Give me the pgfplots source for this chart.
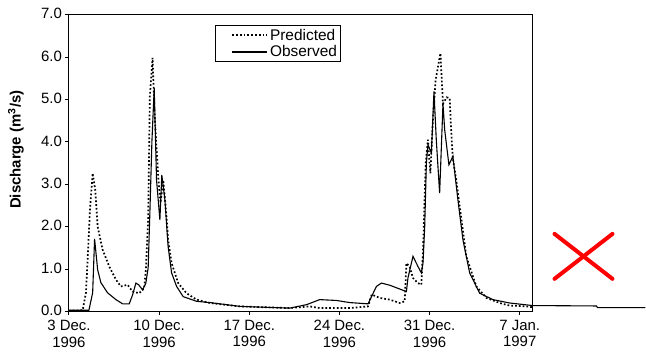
\documentclass[border=0pt]{standalone}
\usepackage{pgfplots}
\pgfplotsset{compat=1.18}
\usepackage{fontspec}
\setmainfont{Liberation Sans}
\begin{document}
\begin{tikzpicture}
\begin{axis}[
  name=ax,
  scale only axis,
  width=464bp, height=297bp,
  xmin=0, xmax=36, ymin=0, ymax=7,
  clip=false,
  axis line style={line width=1bp},
  xtick={0,7,14,21,28,35},
  xticklabels={{3 Dec.\\1996},{10 Dec.\\1996},{17 Dec.\\1996},{24 Dec.\\1996},{31 Dec.\\1996},{7 Jan.\\1997}},
  x tick label style={align=center, font=\fontsize{15}{16.7}\selectfont, yshift=-1.5bp},
  ytick={0,1,...,7},
  y tick label style={font=\fontsize{15}{18}\selectfont, yshift=1bp, /pgf/number format/.cd, fixed, fixed zerofill, precision=1, assume math mode=true},
  tick align=outside,
  major tick length=3.5bp,
  xtick pos=bottom, ytick pos=left,
  tick style={line width=1bp, black},
  ylabel={\textbf{Discharge (m\textsuperscript{3}/s)}},
  ylabel style={font=\fontsize{15}{18}\selectfont, at={(axis description cs:-0.09,0.545)}, anchor=south},
  legend style={at={(rel axis cs:0.315,0.965)}, anchor=north west, draw=black, line width=0.8bp,
    font=\fontsize{15.5}{17}\selectfont, inner xsep=1bp, inner ysep=1.5bp, row sep=0bp, cells={anchor=west}},
  legend image code/.code={\path (0bp,0bp); \draw[#1] (15bp,0bp) -- (50bp,0bp);},
]
% Predicted
\addplot[black, line width=1.7bp, dash pattern=on 1.7bp off 2.1bp] coordinates {
(0,0.02) (1.06,0.03) (1.32,0.44) (1.45,1.22) (1.63,2.39) (1.84,3.26) (2.04,2.87) (2.23,2.0)
(2.61,1.46) (3.13,1.06) (3.65,0.75) (4.03,0.59) (4.55,0.63) (4.94,0.47) (5.45,0.43) (5.84,0.55)
(5.97,0.98) (6.15,2.16) (6.28,5.07) (6.49,5.98) (6.67,4.52) (6.93,3.18) (7.11,2.56) (7.32,3.10)
(7.53,2.40) (7.70,1.69) (7.97,1.14) (8.48,0.67) (9.13,0.43) (9.91,0.28) (10.94,0.20) (13.27,0.12)
(17.15,0.08) (18.70,0.12) (19.47,0.08) (21.80,0.08) (23.22,0.12) (23.51,0.40) (24.13,0.32)
(24.90,0.28) (25.68,0.20) (26.07,0.24) (26.20,1.14) (26.45,1.06) (26.71,0.79) (27.10,0.67)
(27.36,0.63) (27.49,1.45) (27.70,3.5) (27.87,4.05) (28.06,3.26) (28.22,4.29) (28.47,5.46)
(28.84,6.09) (29.04,4.9) (29.33,5.05) (29.56,5.03) (29.67,4.3) (29.81,3.6) (30.07,3.1)
(30.85,1.30) (31.63,0.59) (32.41,0.32) (33.44,0.20) (34.21,0.14) (35.51,0.12) (36.0,0.10)
};
\addlegendentry{Predicted}
% Observed
\addplot[black, line width=1.1bp] coordinates {
(0,0.03) (1.55,0.03) (1.84,0.44) (1.99,1.71) (2.23,0.98) (2.48,0.68) (3.00,0.44) (3.65,0.28)
(4.17,0.18) (4.68,0.18) (4.94,0.39) (5.20,0.67) (5.41,0.63) (5.72,0.51) (5.97,0.67) (6.15,1.03)
(6.28,2.30) (6.44,4.0) (6.62,5.27) (6.80,3.10) (6.94,2.6) (7.06,2.16) (7.21,3.22) (7.45,2.63)
(7.70,1.53) (7.97,0.91) (8.36,0.59) (8.87,0.35) (9.91,0.24) (10.94,0.21) (13.27,0.12) (17.15,0.08)
(18.44,0.16) (19.47,0.28) (20.77,0.26) (21.80,0.21) (23.22,0.18) (23.87,0.59) (24.26,0.67)
(24.90,0.62) (26.20,0.47) (26.32,0.79) (26.71,1.30) (27.10,1.06) (27.36,0.91) (27.49,1.15)
(27.62,2.0) (27.75,3.5) (27.87,3.93) (28.14,3.74) (28.34,5.19) (28.52,4.05) (28.78,2.79)
(29.04,4.90) (29.17,4.29) (29.50,3.46) (29.81,3.66) (30.20,2.63) (30.59,1.69) (31.11,0.91)
(31.89,0.43) (32.92,0.28) (34.21,0.20) (36.0,0.14) (40.96,0.13) (41.04,0.09) (44.76,0.09)
};
\addlegendentry{Observed}
% red cross
\addplot[red, line width=4bp, line cap=round, forget plot] coordinates {(37.7,1.83) (42.2,0.77)};
\addplot[red, line width=4bp, line cap=round, forget plot] coordinates {(37.7,0.77) (42.2,1.83)};
\end{axis}
\path[use as bounding box] ([xshift=-69bp,yshift=-40.3bp]ax.south west) rectangle ([xshift=113bp,yshift=14.7bp]ax.north east);
\end{tikzpicture}
\end{document}
